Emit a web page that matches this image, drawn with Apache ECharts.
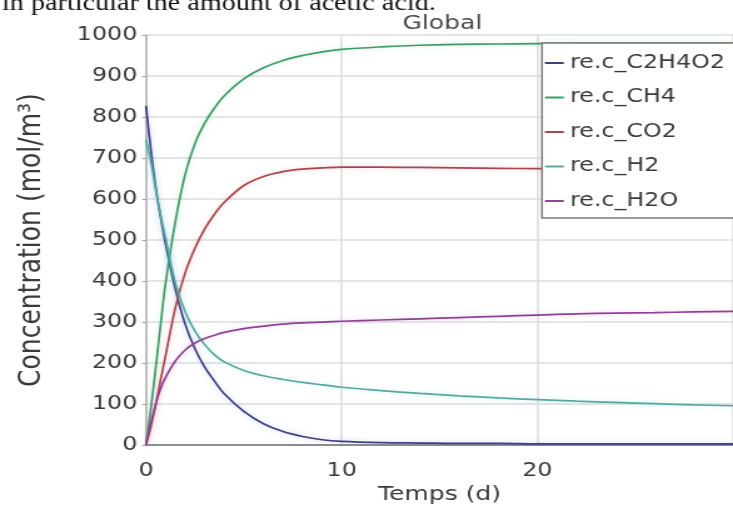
<!DOCTYPE html>
<html>
<head>
<meta charset="utf-8">
<script src="https://cdn.jsdelivr.net/npm/echarts@6/dist/echarts.min.js"></script>
<style>
  html, body { margin: 0; padding: 0; background: #fff; }
  #wrap { width: 733px; height: 510px; overflow: hidden; position: relative; background: #fff; }
  /* the figure is drawn narrow and widened horizontally */
  #chart { width: 586px; height: 510px; transform: scaleX(1.2509); transform-origin: 0 0; }
</style>
</head>
<body>
<div id="wrap"><div id="chart"></div></div>
<script>
// Time (days)
const timeDays = [0, 0.25, 0.5, 0.75, 1, 1.5, 2, 2.5, 3, 3.5, 4, 5, 6, 7, 8, 9, 10, 12, 14, 16, 18, 20, 22, 24, 26, 28, 30];

// Concentrations (mol/m3)
const cC2H4O2 = [827, 720, 628, 555, 490, 380, 295, 235, 190, 156, 125, 82, 52, 33, 21, 13, 9, 6, 5, 4, 4, 3, 3, 3, 3, 3, 3];
const cCH4    = [0, 90, 190, 295, 395, 545, 660, 735, 785, 822, 852, 893, 920, 938, 950, 959, 965, 971, 975, 977, 978, 979, 980, 980, 980, 980, 980];
const cCO2    = [0, 45, 100, 160, 218, 335, 420, 480, 527, 563, 592, 633, 655, 667, 673, 676, 678, 678, 677, 676, 675, 674, 673, 672, 672, 671, 671];
const cH2     = [745, 690, 622, 560, 505, 395, 325, 278, 245, 220, 203, 182, 169, 160, 153, 147, 141, 133, 126, 120, 115, 111, 107, 104, 101, 98, 96];
const cH2O    = [0, 55, 100, 138, 165, 205, 232, 249, 260, 268, 275, 284, 290, 295, 298, 300, 302, 305, 308, 311, 314, 317, 320, 322, 323, 325, 326];

const seriesNames  = ['re.c_C2H4O2', 're.c_CH4', 're.c_CO2', 're.c_H2', 're.c_H2O'];
const seriesValues = [cC2H4O2, cCH4, cCO2, cH2, cH2O];
const seriesColors = ['#3d3f80', '#3f9a68', '#a8454d', '#55a89f', '#8c4490'];
const haloColors   = ['rgba(90,120,220,0.35)', 'rgba(90,210,140,0.35)', 'rgba(230,110,120,0.35)', 'rgba(90,220,210,0.35)', 'rgba(220,110,220,0.35)'];

const xTicks = { min: 0, max: 30, interval: 10 };
const yTicks = { min: 0, max: 1000, interval: 100 };

const topText = 'in particular the amount of acetic acid.';

const SX = 1.2509;           // horizontal widening applied by CSS
const px = v => v / SX;      // page x -> drawing x

const FONT = '"DejaVu Sans", sans-serif';

const chart = echarts.init(document.getElementById('chart'), null, { renderer: 'canvas' });

const series = seriesNames.map((name, i) => ({
  name: name,
  type: 'line',
  data: timeDays.map((t, k) => [t, seriesValues[i][k]]),
  smooth: 0.35,
  symbol: 'none',
  showSymbol: false,
  color: seriesColors[i],
  lineStyle: {
    width: 1.7,
    color: seriesColors[i],
    shadowBlur: 5,
    shadowColor: haloColors[i]
  },
  z: 3
}));

chart.setOption({
  animation: false,
  backgroundColor: '#fff',
  title: {
    text: 'Global',
    left: px(436),
    top: 9,
    textAlign: 'center',
    textStyle: { fontFamily: FONT, fontSize: 20, fontWeight: 'normal', color: '#4a4a4a' }
  },
  graphic: [{
    type: 'text',
    x: px(2),
    y: 4.5,
    silent: true,
    style: {
      text: topText,
      font: '22.5px "Liberation Serif", "Times New Roman", serif',
      fill: '#111',
      verticalAlign: 'middle',
      align: 'left'
    }
  }],
  legend: {
    orient: 'vertical',
    left: px(542),
    top: 43,
    icon: 'rect',
    itemWidth: 15,
    itemHeight: 2,
    itemGap: 12.5,
    padding: [9, 16, 6, px(545) - px(542)],
    borderColor: '#7a7a7a',
    borderWidth: 1.5,
    borderRadius: 0,
    backgroundColor: '#fff',
    textStyle: { fontFamily: FONT, fontSize: 19, color: '#3a3a3a', lineHeight: 22 },
    data: seriesNames
  },
  grid: {
    left: px(146),
    right: 586 - px(737),
    top: 35,
    bottom: 58,
    containLabel: false
  },
  xAxis: [{
    type: 'value',
    min: xTicks.min,
    max: xTicks.max,
    interval: xTicks.interval,
    name: 'Temps (d)',
    nameLocation: 'middle',
    nameGap: 35,
    nameTextStyle: { fontFamily: FONT, fontSize: 20, color: '#3a3a3a' },
    axisLine: { show: true, onZero: false, lineStyle: { color: '#8a8a8a', width: 2 } },
    axisTick: { show: false },
    axisLabel: { fontFamily: FONT, fontSize: 19, color: '#3a3a3a', margin: 16, showMaxLabel: false },
    splitLine: { show: true, lineStyle: { color: '#dcdcdc', width: 1.5 } }
  }, {
    type: 'value',
    position: 'top',
    min: xTicks.min,
    max: xTicks.max,
    interval: xTicks.interval,
    axisLine: { show: true, lineStyle: { color: '#8e8e8e', width: 1.5 } },
    axisTick: { show: false },
    axisLabel: { show: false },
    splitLine: { show: false }
  }],
  yAxis: {
    type: 'value',
    min: yTicks.min,
    max: yTicks.max,
    interval: yTicks.interval,
    name: 'Concentration (mol/m³)',
    nameLocation: 'middle',
    nameGap: 79,
    nameTextStyle: { fontFamily: FONT, fontSize: 25, color: '#3a3a3a' },
    axisLine: { show: true, lineStyle: { color: '#b4b4b4', width: 1.5 } },
    axisTick: { show: true, length: 3, lineStyle: { color: '#9a9a9a' } },
    axisLabel: { fontFamily: FONT, fontSize: 19, color: '#3a3a3a', margin: 7, formatter: v => String(v) },
    splitLine: { show: true, lineStyle: { color: '#dcdcdc', width: 1.5 } }
  },
  series: series
});
</script>
</body>
</html>
